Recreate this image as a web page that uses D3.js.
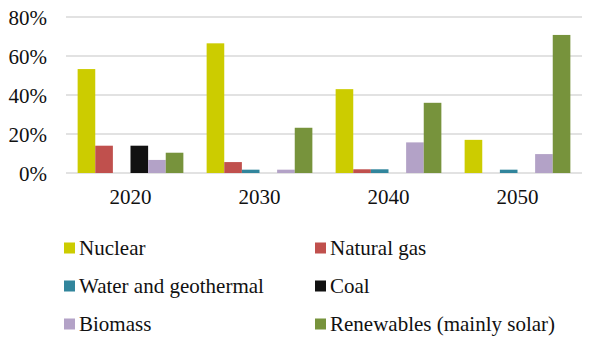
<!DOCTYPE html>
<html>
<head>
<meta charset="utf-8">
<script src="https://cdn.jsdelivr.net/npm/d3@7"></script>
</head>
<body style="margin:0">
<script>
// dados
const anos = ["2020", "2030", "2040", "2050"];
const fontes = ["Nuclear", "Natural gas", "Water and geothermal", "Coal", "Biomass", "Renewables (mainly solar)"];
const cores = ["#cccc00", "#c0504d", "#31859c", "#111111", "#b3a2c7", "#77933c"];
const nuclear = [53.3, 66.5, 43, 17];
const gasNatural = [14, 5.6, 1.9, 0];
const agua = [0, 1.7, 1.9, 1.7];
const carvao = [14, 0, 0, 0];
const biomassa = [6.7, 1.7, 15.7, 9.7];
const renovaveis = [10.4, 23.2, 36, 70.8];
const ticksY = [0, 20, 40, 60, 80];

const series = [nuclear, gasNatural, agua, carvao, biomassa, renovaveis];

const familia = ["Liberation", "Serif"].join(" ");
const margem = { superior: 17, esquerda: 66, direita: 10 };
const largura = 592;
const alturaTotal = 338;

const svg = d3.select("body")
  .append("svg")
    .attr("width", largura)
    .attr("height", alturaTotal);

const x = d3.scaleBand()
  .domain(anos)
  .range([margem.esquerda, 582]);

const xInterno = d3.scaleBand()
  .domain(fontes)
  .range([0, x.bandwidth()])
  .paddingOuter(0.66)
  .paddingInner(0);

const y = d3.scaleLinear()
  .domain([0, 80])
  .range([173, margem.superior]);

// grade horizontal
svg.append("g")
  .selectAll("line")
  .data(ticksY)
  .join("line")
    .attr("x1", margem.esquerda)
    .attr("x2", 582)
    .attr("y1", d => y(d))
    .attr("y2", d => y(d))
    .attr("stroke", "#d9d9d9")
    .attr("stroke-width", 1.5);

// eixo Y
const eixoY = svg.append("g")
  .attr("transform", `translate(47,0)`)
  .call(d3.axisLeft(y).tickValues(ticksY).tickFormat(d => d + "%").tickSize(0).tickPadding(0));
eixoY.select(".domain").remove();
eixoY.selectAll("text")
  .style("font-family", () => `"${familia}"`)
  .style("font-size", "21px")
  .attr("fill", "#111")
  .attr("dy", "0.35em");

// eixo X
const eixoX = svg.append("g")
  .attr("transform", `translate(0,173)`)
  .call(d3.axisBottom(x).tickSize(0).tickPadding(0));
eixoX.select(".domain").remove();
eixoX.selectAll("text")
  .style("font-family", () => `"${familia}"`)
  .style("font-size", "21px")
  .attr("fill", "#111")
  .attr("dy", null)
  .attr("y", 31);

// barras
const grupos = svg.append("g")
  .selectAll("g")
  .data(anos)
  .join("g")
    .attr("transform", d => `translate(${x(d)},0)`);

grupos.selectAll("rect")
  .data((ano, i) => fontes.map((f, j) => ({ fonte: f, valor: series[j][i], cor: cores[j] })))
  .join("rect")
    .attr("x", d => xInterno(d.fonte))
    .attr("y", d => y(d.valor))
    .attr("width", xInterno.bandwidth())
    .attr("height", d => y(0) - y(d.valor))
    .attr("fill", d => d.cor);

// legenda
const legenda = svg.append("g")
  .selectAll("g")
  .data(fontes)
  .join("g")
    .attr("transform", (d, i) => `translate(${i % 2 === 0 ? 64 : 315},${248 + Math.floor(i / 2) * 38})`);

legenda.append("rect")
  .attr("x", 0)
  .attr("y", -5.5)
  .attr("width", 11)
  .attr("height", 11)
  .attr("fill", (d, i) => cores[i]);

legenda.append("text")
  .attr("x", 15)
  .attr("y", 6.5)
  .style("font-family", () => `"${familia}"`)
  .style("font-size", "21px")
  .attr("fill", "#111")
  .text(d => d);
</script>
</body>
</html>
